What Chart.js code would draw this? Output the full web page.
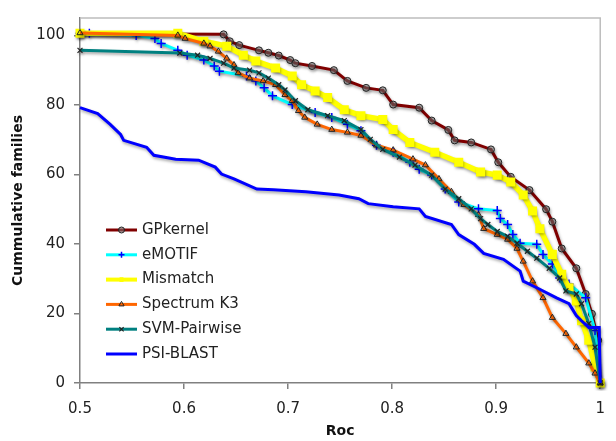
<!DOCTYPE html>
<html>
<head>
<meta charset="utf-8">
<script src="https://cdn.jsdelivr.net/npm/chart.js@4/dist/chart.umd.min.js"></script>
<style>
  body { margin: 0; background: #fff; }
  canvas { display: block; }
</style>
</head>
<body>
<canvas id="rocChart" width="616" height="441"></canvas>
<script>
// tick labels
const rocTicks = [0.5, 0.6, 0.7, 0.8, 0.9, 1.0];
const familyTicks = [0, 20, 40, 60, 80, 100];

const seriesNames = ['GPkernel', 'eMOTIF', 'Mismatch', 'Spectrum K3', 'SVM-Pairwise', 'PSI-BLAST'];

// values (roc score, cumulative families)
const gpkernelRoc = [0.5, 0.638, 0.644, 0.653, 0.672, 0.681, 0.691, 0.702, 0.707, 0.723, 0.744, 0.757, 0.775, 0.791, 0.801, 0.826, 0.838, 0.854, 0.86, 0.876, 0.895, 0.902, 0.914, 0.932, 0.948, 0.954, 0.963, 0.977, 0.986, 0.992, 0.998, 1.0];
const gpkernelFam = [100.5, 100.3, 98.3, 97.2, 95.7, 95.0, 94.2, 92.9, 92.0, 91.2, 90.0, 86.9, 84.9, 84.2, 80.1, 79.2, 75.5, 72.8, 69.8, 69.2, 67.2, 63.5, 59.3, 55.5, 50.0, 46.4, 38.7, 33.0, 25.6, 19.9, 12.3, 0];

const emotifRoc = [0.5, 0.509, 0.554, 0.572, 0.578, 0.594, 0.603, 0.619, 0.629, 0.634, 0.66, 0.669, 0.677, 0.685, 0.704, 0.726, 0.742, 0.757, 0.77, 0.785, 0.801, 0.817, 0.826, 0.838, 0.851, 0.864, 0.883, 0.901, 0.904, 0.911, 0.916, 0.923, 0.939, 0.945, 0.954, 0.961, 0.97, 0.986, 0.995, 1.0];
const emotifFam = [100.6, 100.6, 100.0, 99.1, 97.7, 95.7, 94.3, 92.9, 91.2, 89.7, 88.3, 86.9, 84.9, 82.6, 80.1, 77.8, 76.4, 74.4, 72.6, 68.4, 66.4, 63.5, 61.5, 59.8, 55.8, 52.1, 50.1, 49.6, 47.3, 45.6, 42.7, 40.2, 39.9, 37.0, 34.2, 30.2, 28.5, 24.5, 15.1, 0];

const mismatchRoc = [0.5, 0.594, 0.619, 0.641, 0.657, 0.669, 0.688, 0.704, 0.713, 0.726, 0.738, 0.754, 0.77, 0.791, 0.801, 0.817, 0.841, 0.864, 0.885, 0.901, 0.914, 0.926, 0.935, 0.942, 0.954, 0.963, 0.97, 0.977, 0.982, 0.989, 0.995, 1.0];
const mismatchFam = [100.6, 100.6, 98.3, 96.9, 94.3, 92.6, 90.6, 88.3, 85.8, 84.0, 82.1, 78.6, 76.9, 75.8, 72.9, 69.2, 66.4, 63.5, 60.7, 59.8, 57.8, 54.1, 49.5, 44.4, 37.0, 31.3, 27.4, 23.6, 17.9, 12.3, 4.6, 0];

const spectrumRoc = [0.5, 0.594, 0.601, 0.619, 0.625, 0.633, 0.641, 0.648, 0.652, 0.663, 0.676, 0.688, 0.697, 0.704, 0.71, 0.716, 0.728, 0.742, 0.757, 0.77, 0.785, 0.801, 0.82, 0.832, 0.845, 0.857, 0.869, 0.883, 0.888, 0.901, 0.911, 0.92, 0.926, 0.935, 0.945, 0.954, 0.967, 0.977, 0.989, 0.995, 1.0];
const spectrumFam = [100.7, 100.0, 99.1, 97.7, 96.9, 95.4, 93.4, 91.5, 89.2, 87.7, 86.9, 85.8, 82.9, 81.2, 78.3, 76.4, 74.4, 72.9, 72.1, 71.2, 68.4, 67.0, 64.4, 62.7, 58.7, 55.0, 51.3, 48.4, 44.4, 42.7, 41.3, 38.7, 35.0, 29.3, 24.5, 18.8, 14.2, 10.3, 5.7, 2.8, 0];

const svmRoc = [0.5, 0.596, 0.613, 0.625, 0.638, 0.648, 0.663, 0.672, 0.681, 0.691, 0.697, 0.707, 0.719, 0.738, 0.754, 0.77, 0.779, 0.791, 0.807, 0.822, 0.838, 0.851, 0.864, 0.876, 0.885, 0.892, 0.901, 0.911, 0.92, 0.93, 0.939, 0.951, 0.961, 0.967, 0.977, 0.982, 0.989, 0.995, 1.0];
const svmFam = [95.7, 94.9, 94.3, 93.4, 92.0, 90.6, 90.0, 89.2, 87.7, 85.8, 84.3, 81.2, 78.6, 76.9, 75.5, 72.9, 70.1, 67.2, 65.0, 62.7, 59.8, 55.8, 53.0, 50.1, 47.3, 45.6, 43.6, 42.2, 40.2, 37.9, 35.9, 33.0, 30.2, 26.5, 25.6, 22.8, 17.1, 10.3, 0];

const psiblastRoc = [0.5, 0.517, 0.529, 0.539, 0.542, 0.564, 0.571, 0.592, 0.614, 0.63, 0.636, 0.648, 0.67, 0.686, 0.717, 0.749, 0.768, 0.777, 0.801, 0.826, 0.832, 0.857, 0.864, 0.879, 0.888, 0.907, 0.923, 0.926, 0.939, 0.958, 0.97, 0.977, 0.982, 0.989, 0.999, 1.0];
const psiblastFam = [79.2, 77.5, 74.4, 71.5, 69.8, 67.8, 65.5, 64.4, 64.1, 62.1, 60.1, 58.7, 55.8, 55.6, 55.0, 54.1, 53.0, 51.6, 50.7, 50.1, 47.9, 45.6, 42.7, 39.9, 37.3, 35.6, 32.2, 29.3, 27.4, 24.5, 22.8, 19.4, 17.9, 16.0, 16.0, 0];

function pts(xs, ys) {
  return xs.map((x, i) => ({ x: x, y: ys[i] }));
}

const FONT = 'DejaVu Sans, Verdana, sans-serif';

const datasets = [
  { label: seriesNames[0], data: pts(gpkernelRoc, gpkernelFam), borderColor: '#800000', borderWidth: 3,
    pointStyle: 'circle', pointRadius: 3.5, pointBorderColor: '#222', pointBorderWidth: 1, pointBackgroundColor: 'rgba(120,120,120,0.55)', order: 5 },
  { label: seriesNames[1], data: pts(emotifRoc, emotifFam), borderColor: '#00ffff', borderWidth: 3,
    pointStyle: 'cross', pointRadius: 4.5, pointBorderColor: '#0000ff', pointBorderWidth: 1.5, order: 4 },
  { label: seriesNames[2], data: pts(mismatchRoc, mismatchFam), borderColor: '#ffff00', borderWidth: 5.5,
    pointStyle: 'rect', pointRadius: 2.5, pointBorderColor: '#ffff00', pointBackgroundColor: '#ffff00', order: 3 },
  { label: seriesNames[3], data: pts(spectrumRoc, spectrumFam), borderColor: '#ff6600', borderWidth: 3,
    pointStyle: 'triangle', pointRadius: 3.5, pointBorderColor: '#222', pointBorderWidth: 1, pointBackgroundColor: 'rgba(0,0,0,0)', order: 2 },
  { label: seriesNames[4], data: pts(svmRoc, svmFam), borderColor: '#008080', borderWidth: 3,
    pointStyle: 'crossRot', pointRadius: 3.5, pointBorderColor: '#222', pointBorderWidth: 1.2, order: 1 },
  { label: seriesNames[5], data: pts(psiblastRoc, psiblastFam), borderColor: '#0000ff', borderWidth: 3,
    pointRadius: 0, order: 0 }
];
datasets.forEach(d => { d.fill = false; d.tension = 0; d.clip = 8; d.pointHoverRadius = d.pointRadius; });

// soft drop shadow under every series
const shadowPlugin = {
  id: 'shadow',
  beforeDatasetDraw(chart) {
    const ctx = chart.ctx;
    ctx.save();
    ctx.shadowColor = 'rgba(0,0,0,0.35)';
    ctx.shadowBlur = 3;
    ctx.shadowOffsetX = 1;
    ctx.shadowOffsetY = 2;
  },
  afterDatasetDraw(chart) {
    chart.ctx.restore();
  }
};

// light frame on top and right
const framePlugin = {
  id: 'frame',
  beforeDatasetsDraw(chart) {
    const { ctx, chartArea: a } = chart;
    ctx.save();
    ctx.strokeStyle = '#bdbdbd';
    ctx.lineWidth = 1.5;
    ctx.beginPath();
    ctx.moveTo(a.left, a.top);
    ctx.lineTo(a.right, a.top);
    ctx.lineTo(a.right, a.bottom);
    ctx.stroke();
    ctx.restore();
  }
};

// legend drawn inside the plot, lower left
const legendPlugin = {
  id: 'insideLegend',
  afterDraw(chart) {
    const ctx = chart.ctx;
    const x0 = 106, x1 = 137, tx = 142, y0 = 230, dy = 24.8;
    ctx.save();
    ctx.font = '15px ' + FONT;
    ctx.textBaseline = 'middle';
    ctx.fillStyle = '#222';
    chart.data.datasets.forEach((d, i) => {
      const y = y0 + i * dy;
      ctx.strokeStyle = d.borderColor;
      ctx.lineWidth = Math.min(d.borderWidth, 4);
      ctx.beginPath();
      ctx.moveTo(x0, y);
      ctx.lineTo(x1, y);
      ctx.stroke();
      if (d.pointRadius > 0) {
        ctx.strokeStyle = d.pointBorderColor;
        ctx.fillStyle = d.pointBackgroundColor || 'rgba(0,0,0,0)';
        ctx.lineWidth = d.pointBorderWidth || 1;
        Chart.helpers.drawPoint(ctx, { pointStyle: d.pointStyle, radius: Math.min(d.pointRadius, 3), borderWidth: d.pointBorderWidth || 1, rotation: 0 }, (x0 + x1) / 2, y);
      }
      ctx.fillStyle = '#222';
      ctx.fillText(d.label, tx, y);
    });
    ctx.restore();
  }
};

new Chart(document.getElementById('rocChart'), {
  type: 'line',
  data: { datasets: datasets },
  plugins: [shadowPlugin, framePlugin, legendPlugin],
  options: {
    responsive: false,
    animation: false,
    events: [],
    layout: { padding: { left: 0, right: 4, top: 15, bottom: 0 } },
    plugins: { legend: { display: false }, tooltip: { enabled: false } },
    scales: {
      x: {
        type: 'linear',
        min: 0.5,
        max: 1.0,
        afterBuildTicks: s => { s.ticks = rocTicks.map(v => ({ value: v })); },
        afterFit: s => { s.height = 58; },
        ticks: {
          color: '#222',
          font: { family: FONT, size: 15 },
          padding: 11,
          maxRotation: 0,
          callback: v => (v === 1 ? '1' : v.toFixed(1))
        },
        grid: { drawOnChartArea: false, drawTicks: true, tickLength: 6, color: '#808080', lineWidth: 1.5 },
        border: { color: '#808080', width: 1.5 },
        title: { display: true, text: 'Roc', color: '#111', font: { family: FONT, size: 14, weight: 'bold' }, padding: { top: 0, bottom: 1 } }
      },
      y: {
        type: 'linear',
        min: 0,
        max: 105,
        afterBuildTicks: s => { s.ticks = familyTicks.map(v => ({ value: v })); },
        afterFit: s => { s.width = 80; },
        ticks: {
          color: '#222',
          font: { family: FONT, size: 15 },
          padding: 9
        },
        grid: { drawOnChartArea: false, drawTicks: true, tickLength: 6, color: '#808080', lineWidth: 1.5 },
        border: { color: '#808080', width: 1.5 },
        title: { display: true, text: 'Cummulative families', color: '#111', font: { family: FONT, size: 14, weight: 'bold' }, padding: { top: 10, bottom: 0 } }
      }
    }
  }
});
</script>
</body>
</html>
